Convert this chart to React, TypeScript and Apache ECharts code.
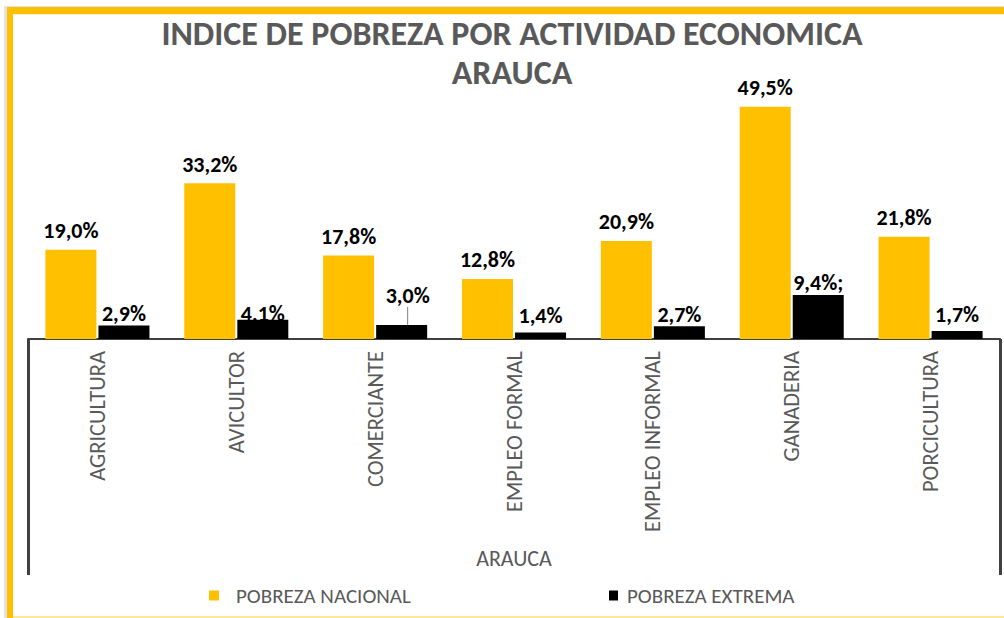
import React, { useEffect, useRef } from "react";
import * as echarts from "echarts";

const categories = [
  "AGRICULTURA",
  "AVICULTOR",
  "COMERCIANTE",
  "EMPLEO FORMAL",
  "EMPLEO INFORMAL",
  "GANADERIA",
  "PORCICULTURA",
];
const pobrezaNacional = [19.0, 33.2, 17.8, 12.8, 20.9, 49.5, 21.8];
const pobrezaExtrema = [2.9, 4.1, 3.0, 1.4, 2.7, 9.4, 1.7];
const extremaLabels = ["2,9%", "4,1%", "3,0%", "1,4%", "2,7%", "9,4%;", "1,7%"];
const outerCategory = ["ARAUCA"];
const seriesNames = ["POBREZA NACIONAL", "POBREZA EXTREMA"];
const titleLines = ["INDICE DE POBREZA POR ACTIVIDAD ECONOMICA", "ARAUCA"];

const FONT = "Carlito, Lato, 'Open Sans', sans-serif";
const GRAY = "#595959";
const AXIS = "#404040";
const YELLOW = "#FFC000";

const fmt = (v: number) => v.toFixed(1).replace(".", ",") + "%";

export default function App() {
  const ref = useRef<HTMLDivElement>(null);
  useEffect(() => {
    if (!ref.current) return;
    const chart = echarts.init(ref.current, null, { renderer: "svg" });
    chart.setOption({
      animation: false,
      backgroundColor: "#ffffff",
      title: {
        text: titleLines.join("\n"),
        left: 507,
        top: 9,
        textAlign: "center",
        padding: 5,
        textStyle: {
          fontFamily: FONT,
          fontWeight: "bold",
          fontSize: 34,
          lineHeight: 39,
          color: GRAY,
        },
      },
      graphic: [
        { type: "rect", z: -10, shape: { x: 4, y: 6, width: 1000, height: 612 }, style: { fill: "#e3e3e3" } },
        { type: "rect", z: -9, shape: { x: 7, y: 7, width: 997, height: 611 }, style: { fill: YELLOW } },
        { type: "rect", z: -8, shape: { x: 13, y: 14, width: 991, height: 604 }, style: { fill: "#ffffff" } },
        { type: "rect", z: -7, shape: { x: 13, y: 14, width: 991, height: 1 }, style: { fill: "#FFF2CC" } },
        { type: "rect", z: -7, shape: { x: 13, y: 616, width: 991, height: 2 }, style: { fill: "#FFE699" } },
      ],
      legend: [
        {
          left: 204,
          top: 580,
          icon: "rect",
          itemWidth: 10,
          itemHeight: 10,
          data: [seriesNames[0]],
          textStyle: { fontFamily: FONT, fontSize: 21, color: GRAY, padding: [0, 0, 0, 12] },
        },
        {
          left: 604,
          top: 580,
          icon: "rect",
          itemWidth: 9,
          itemHeight: 10,
          data: [seriesNames[1]],
          textStyle: { fontFamily: FONT, fontSize: 21, color: GRAY, padding: [0, 0, 0, 4] },
        },
      ],
      grid: { left: 28, right: 4, top: 81, bottom: 279, containLabel: false },
      xAxis: [
        {
          type: "category",
          data: categories,
          axisLine: { show: true, lineStyle: { color: AXIS, width: 2 } },
          axisTick: { show: false },
          axisLabel: {
            rotate: 90,
            margin: 12,
            fontFamily: FONT,
            fontSize: 22.5,
            color: GRAY,
          },
        },
        {
          type: "category",
          data: outerCategory,
          position: "bottom",
          axisLine: { show: false },
          axisTick: { show: true, length: 236, lineStyle: { color: AXIS, width: 3 } },
          axisLabel: {
            margin: 208,
            fontFamily: FONT,
            fontSize: 22,
            color: GRAY,
          },
        },
      ],
      yAxis: {
        type: "value",
        min: 0,
        max: 55,
        show: false,
        splitLine: { show: false },
      },
      series: [
        {
          name: seriesNames[0],
          type: "bar",
          xAxisIndex: 0,
          data: pobrezaNacional,
          barWidth: 51,
          barGap: "4%",
          itemStyle: { color: YELLOW },
          label: {
            show: true,
            position: "top",
            distance: 8,
            formatter: (p: any) => fmt(p.value),
            fontFamily: FONT,
            fontWeight: "bold",
            fontSize: 22,
            color: "#000000",
          },
        },
        {
          name: seriesNames[1],
          type: "bar",
          xAxisIndex: 0,
          data: pobrezaExtrema.map((v, i) =>
            i === 2 ? { value: v, labelLine: { show: true } } : v
          ),
          barWidth: 51,
          barGap: "4%",
          itemStyle: { color: "#000000" },
          label: {
            show: true,
            position: "top",
            distance: 1,
            formatter: (p: any) => extremaLabels[p.dataIndex],
            fontFamily: FONT,
            fontWeight: "bold",
            fontSize: 22,
            color: "#000000",
          },
          labelLine: { show: false, lineStyle: { color: "#7f7f7f", width: 1 } },
          labelLayout: (p: any) => {
            if (p.dataIndex === 2) return { dx: 6, dy: -17 };
            if (p.dataIndex === 1) return { dy: 6 };
            if (p.dataIndex === 3 || p.dataIndex === 6) return { dy: -5 };
            return {};
          },
        },
      ],
    });
    return () => chart.dispose();
  }, []);
  return (
    <div
      ref={ref}
      style={{ position: "absolute", left: 0, top: 0, width: 1004, height: 618 }}
    />
  );
}
